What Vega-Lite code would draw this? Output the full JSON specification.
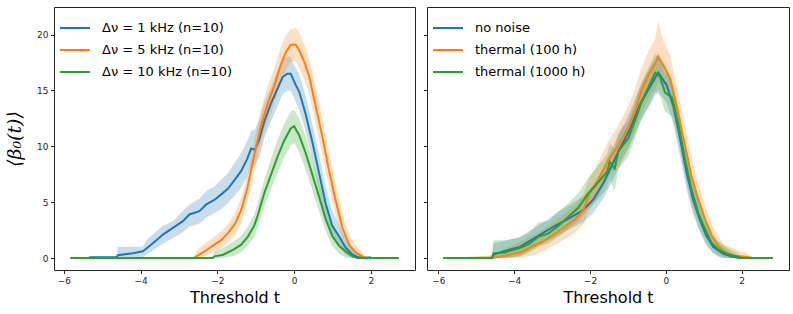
{
"$schema": "https://vega.github.io/schema/vega-lite/v6.json",
"background": "white",
"padding": {"left": 5, "top": 6, "right": 7, "bottom": 5},
"spacing": 6,
"config": {
  "font": "DejaVu Sans",
  "view": {"stroke": "#262626", "strokeWidth": 1},
  "axis": {"grid": false, "domain": false, "tickColor": "#262626", "tickSize": 3.5, "labelFontSize": 9, "labelColor": "#262626", "labelPadding": 2.5, "titleFontWeight": "normal", "titleColor": "#000000"},
  "legend": {"labelFontSize": 13, "labelColor": "#000000", "symbolStrokeWidth": 2}
},
"datasets": {
"left": [
{"s":"Δν = 1 kHz (n=10)","t":-5.83,"m":0,"lo":0,"hi":0},
{"s":"Δν = 1 kHz (n=10)","t":-5.33,"m":0,"lo":0,"hi":0},
{"s":"Δν = 1 kHz (n=10)","t":-5.32,"m":0.08,"lo":0,"hi":0.15},
{"s":"Δν = 1 kHz (n=10)","t":-4.62,"m":0.1,"lo":0,"hi":0.15},
{"s":"Δν = 1 kHz (n=10)","t":-4.6,"m":0.25,"lo":0,"hi":1.0},
{"s":"Δν = 1 kHz (n=10)","t":-4.2,"m":0.42,"lo":0,"hi":1.0},
{"s":"Δν = 1 kHz (n=10)","t":-3.95,"m":0.6,"lo":0.1,"hi":1.0},
{"s":"Δν = 1 kHz (n=10)","t":-3.85,"m":0.86,"lo":0.3,"hi":1.6},
{"s":"Δν = 1 kHz (n=10)","t":-3.59,"m":1.6,"lo":0.9,"hi":2.4},
{"s":"Δν = 1 kHz (n=10)","t":-3.42,"m":2.1,"lo":1.3,"hi":2.9},
{"s":"Δν = 1 kHz (n=10)","t":-3.16,"m":2.7,"lo":1.8,"hi":3.3},
{"s":"Δν = 1 kHz (n=10)","t":-2.9,"m":3.3,"lo":2.3,"hi":4.2},
{"s":"Δν = 1 kHz (n=10)","t":-2.73,"m":3.9,"lo":2.8,"hi":4.8},
{"s":"Δν = 1 kHz (n=10)","t":-2.47,"m":4.2,"lo":3.1,"hi":5.3},
{"s":"Δν = 1 kHz (n=10)","t":-2.29,"m":4.8,"lo":3.6,"hi":6.0},
{"s":"Δν = 1 kHz (n=10)","t":-2.08,"m":5.2,"lo":4.0,"hi":6.4},
{"s":"Δν = 1 kHz (n=10)","t":-1.9,"m":5.7,"lo":4.4,"hi":7.0},
{"s":"Δν = 1 kHz (n=10)","t":-1.73,"m":6.2,"lo":4.9,"hi":7.6},
{"s":"Δν = 1 kHz (n=10)","t":-1.55,"m":7.0,"lo":5.6,"hi":8.5},
{"s":"Δν = 1 kHz (n=10)","t":-1.38,"m":7.8,"lo":6.3,"hi":9.4},
{"s":"Δν = 1 kHz (n=10)","t":-1.22,"m":8.9,"lo":7.3,"hi":10.5},
{"s":"Δν = 1 kHz (n=10)","t":-1.12,"m":9.8,"lo":8.2,"hi":11.4},
{"s":"Δν = 1 kHz (n=10)","t":-1.02,"m":9.7,"lo":8.3,"hi":11.5},
{"s":"Δν = 1 kHz (n=10)","t":-0.91,"m":10.6,"lo":9.0,"hi":12.4},
{"s":"Δν = 1 kHz (n=10)","t":-0.78,"m":12.2,"lo":10.7,"hi":13.8},
{"s":"Δν = 1 kHz (n=10)","t":-0.61,"m":13.8,"lo":12.2,"hi":15.3},
{"s":"Δν = 1 kHz (n=10)","t":-0.43,"m":15.2,"lo":13.6,"hi":16.8},
{"s":"Δν = 1 kHz (n=10)","t":-0.3,"m":16.2,"lo":14.7,"hi":17.7},
{"s":"Δν = 1 kHz (n=10)","t":-0.18,"m":16.5,"lo":15.0,"hi":18.1},
{"s":"Δν = 1 kHz (n=10)","t":-0.09,"m":16.5,"lo":15.0,"hi":18.0},
{"s":"Δν = 1 kHz (n=10)","t":0.04,"m":15.5,"lo":14.0,"hi":17.0},
{"s":"Δν = 1 kHz (n=10)","t":0.13,"m":14.9,"lo":13.3,"hi":16.5},
{"s":"Δν = 1 kHz (n=10)","t":0.3,"m":12.9,"lo":11.3,"hi":14.5},
{"s":"Δν = 1 kHz (n=10)","t":0.48,"m":10.3,"lo":8.7,"hi":11.9},
{"s":"Δν = 1 kHz (n=10)","t":0.65,"m":7.6,"lo":6.0,"hi":9.2},
{"s":"Δν = 1 kHz (n=10)","t":0.82,"m":4.9,"lo":3.5,"hi":6.4},
{"s":"Δν = 1 kHz (n=10)","t":0.99,"m":2.9,"lo":1.8,"hi":4.2},
{"s":"Δν = 1 kHz (n=10)","t":1.17,"m":1.96,"lo":1.0,"hi":3.0},
{"s":"Δν = 1 kHz (n=10)","t":1.34,"m":0.92,"lo":0.3,"hi":1.8},
{"s":"Δν = 1 kHz (n=10)","t":1.51,"m":0.33,"lo":0,"hi":1.0},
{"s":"Δν = 1 kHz (n=10)","t":1.65,"m":0.1,"lo":0,"hi":0.4},
{"s":"Δν = 1 kHz (n=10)","t":1.86,"m":0.05,"lo":0,"hi":0.1},
{"s":"Δν = 1 kHz (n=10)","t":1.99,"m":0.05,"lo":0,"hi":0.1},
{"s":"Δν = 1 kHz (n=10)","t":2.0,"m":0,"lo":0,"hi":0},
{"s":"Δν = 1 kHz (n=10)","t":2.72,"m":0,"lo":0,"hi":0},
{"s":"Δν = 5 kHz (n=10)","t":-5.83,"m":0,"lo":0,"hi":0},
{"s":"Δν = 5 kHz (n=10)","t":-2.62,"m":0,"lo":0,"hi":0},
{"s":"Δν = 5 kHz (n=10)","t":-2.55,"m":0.15,"lo":0,"hi":0.6},
{"s":"Δν = 5 kHz (n=10)","t":-2.47,"m":0.3,"lo":0,"hi":0.9},
{"s":"Δν = 5 kHz (n=10)","t":-2.29,"m":0.7,"lo":0.2,"hi":1.4},
{"s":"Δν = 5 kHz (n=10)","t":-2.08,"m":1.2,"lo":0.6,"hi":1.9},
{"s":"Δν = 5 kHz (n=10)","t":-1.9,"m":1.6,"lo":0.9,"hi":2.4},
{"s":"Δν = 5 kHz (n=10)","t":-1.73,"m":2.2,"lo":1.4,"hi":3.0},
{"s":"Δν = 5 kHz (n=10)","t":-1.55,"m":3.0,"lo":2.0,"hi":4.0},
{"s":"Δν = 5 kHz (n=10)","t":-1.38,"m":4.3,"lo":3.2,"hi":5.4},
{"s":"Δν = 5 kHz (n=10)","t":-1.21,"m":6.4,"lo":5.2,"hi":7.6},
{"s":"Δν = 5 kHz (n=10)","t":-1.04,"m":9.2,"lo":7.8,"hi":10.6},
{"s":"Δν = 5 kHz (n=10)","t":-0.87,"m":11.8,"lo":10.3,"hi":13.3},
{"s":"Δν = 5 kHz (n=10)","t":-0.69,"m":13.8,"lo":12.2,"hi":15.4},
{"s":"Δν = 5 kHz (n=10)","t":-0.52,"m":15.4,"lo":13.8,"hi":17.0},
{"s":"Δν = 5 kHz (n=10)","t":-0.35,"m":17.3,"lo":15.6,"hi":18.9},
{"s":"Δν = 5 kHz (n=10)","t":-0.22,"m":18.4,"lo":16.8,"hi":19.9},
{"s":"Δν = 5 kHz (n=10)","t":-0.09,"m":19.1,"lo":17.6,"hi":20.5},
{"s":"Δν = 5 kHz (n=10)","t":0.04,"m":19.1,"lo":17.6,"hi":20.6},
{"s":"Δν = 5 kHz (n=10)","t":0.13,"m":18.6,"lo":17.0,"hi":20.2},
{"s":"Δν = 5 kHz (n=10)","t":0.26,"m":17.6,"lo":16.0,"hi":19.2},
{"s":"Δν = 5 kHz (n=10)","t":0.39,"m":16.3,"lo":14.7,"hi":17.9},
{"s":"Δν = 5 kHz (n=10)","t":0.56,"m":13.6,"lo":12.0,"hi":15.2},
{"s":"Δν = 5 kHz (n=10)","t":0.74,"m":10.8,"lo":9.2,"hi":12.4},
{"s":"Δν = 5 kHz (n=10)","t":0.91,"m":7.8,"lo":6.3,"hi":9.3},
{"s":"Δν = 5 kHz (n=10)","t":1.08,"m":5.2,"lo":3.8,"hi":6.6},
{"s":"Δν = 5 kHz (n=10)","t":1.25,"m":2.8,"lo":1.7,"hi":4.0},
{"s":"Δν = 5 kHz (n=10)","t":1.43,"m":1.2,"lo":0.5,"hi":2.0},
{"s":"Δν = 5 kHz (n=10)","t":1.6,"m":0.5,"lo":0,"hi":1.2},
{"s":"Δν = 5 kHz (n=10)","t":1.77,"m":0.18,"lo":0,"hi":0.6},
{"s":"Δν = 5 kHz (n=10)","t":1.86,"m":0,"lo":0,"hi":0},
{"s":"Δν = 5 kHz (n=10)","t":2.72,"m":0,"lo":0,"hi":0},
{"s":"Δν = 10 kHz (n=10)","t":-5.83,"m":0,"lo":0,"hi":0},
{"s":"Δν = 10 kHz (n=10)","t":-2.12,"m":0,"lo":0,"hi":0},
{"s":"Δν = 10 kHz (n=10)","t":-2.08,"m":0.15,"lo":0,"hi":0.6},
{"s":"Δν = 10 kHz (n=10)","t":-1.85,"m":0.3,"lo":0,"hi":0.9},
{"s":"Δν = 10 kHz (n=10)","t":-1.56,"m":0.8,"lo":0.2,"hi":1.5},
{"s":"Δν = 10 kHz (n=10)","t":-1.38,"m":1.2,"lo":0.5,"hi":2.0},
{"s":"Δν = 10 kHz (n=10)","t":-1.21,"m":1.9,"lo":1.1,"hi":2.8},
{"s":"Δν = 10 kHz (n=10)","t":-1.04,"m":2.9,"lo":1.9,"hi":3.9},
{"s":"Δν = 10 kHz (n=10)","t":-0.95,"m":3.8,"lo":2.7,"hi":4.9},
{"s":"Δν = 10 kHz (n=10)","t":-0.78,"m":5.8,"lo":4.6,"hi":7.0},
{"s":"Δν = 10 kHz (n=10)","t":-0.61,"m":7.4,"lo":6.1,"hi":8.8},
{"s":"Δν = 10 kHz (n=10)","t":-0.43,"m":9.1,"lo":7.7,"hi":10.6},
{"s":"Δν = 10 kHz (n=10)","t":-0.26,"m":10.5,"lo":9.0,"hi":12.0},
{"s":"Δν = 10 kHz (n=10)","t":-0.09,"m":11.6,"lo":10.1,"hi":13.1},
{"s":"Δν = 10 kHz (n=10)","t":0.0,"m":11.8,"lo":10.3,"hi":13.3},
{"s":"Δν = 10 kHz (n=10)","t":0.13,"m":11.0,"lo":9.5,"hi":12.5},
{"s":"Δν = 10 kHz (n=10)","t":0.3,"m":9.4,"lo":7.9,"hi":10.9},
{"s":"Δν = 10 kHz (n=10)","t":0.48,"m":7.4,"lo":6.0,"hi":8.8},
{"s":"Δν = 10 kHz (n=10)","t":0.65,"m":5.5,"lo":4.2,"hi":6.8},
{"s":"Δν = 10 kHz (n=10)","t":0.82,"m":3.5,"lo":2.4,"hi":4.7},
{"s":"Δν = 10 kHz (n=10)","t":0.99,"m":2.0,"lo":1.1,"hi":3.0},
{"s":"Δν = 10 kHz (n=10)","t":1.17,"m":1.1,"lo":0.4,"hi":1.8},
{"s":"Δν = 10 kHz (n=10)","t":1.34,"m":0.6,"lo":0,"hi":1.2},
{"s":"Δν = 10 kHz (n=10)","t":1.51,"m":0.2,"lo":0,"hi":0.6},
{"s":"Δν = 10 kHz (n=10)","t":1.64,"m":0,"lo":0,"hi":0},
{"s":"Δν = 10 kHz (n=10)","t":2.72,"m":0,"lo":0,"hi":0}
],
"right": [
{"s":"no noise","t":-5.87,"m":0,"lo":0,"hi":0},
{"s":"no noise","t":-4.6,"m":0,"lo":0,"hi":0},
{"s":"no noise","t":-4.55,"m":0.3,"lo":0,"hi":1.3},
{"s":"no noise","t":-4.29,"m":0.6,"lo":0,"hi":1.5},
{"s":"no noise","t":-3.85,"m":1.0,"lo":0.2,"hi":1.9},
{"s":"no noise","t":-3.41,"m":1.9,"lo":1.0,"hi":2.8},
{"s":"no noise","t":-2.97,"m":2.8,"lo":1.8,"hi":3.8},
{"s":"no noise","t":-2.53,"m":3.6,"lo":2.6,"hi":4.8},
{"s":"no noise","t":-2.18,"m":4.3,"lo":3.2,"hi":5.5},
{"s":"no noise","t":-1.92,"m":5.2,"lo":4.0,"hi":6.5},
{"s":"no noise","t":-1.65,"m":6.7,"lo":5.3,"hi":8.1},
{"s":"no noise","t":-1.48,"m":7.9,"lo":6.4,"hi":9.4},
{"s":"no noise","t":-1.21,"m":9.8,"lo":8.3,"hi":11.3},
{"s":"no noise","t":-0.95,"m":11.5,"lo":10.0,"hi":13.1},
{"s":"no noise","t":-0.69,"m":13.7,"lo":12.1,"hi":15.3},
{"s":"no noise","t":-0.42,"m":15.3,"lo":13.7,"hi":17.0},
{"s":"no noise","t":-0.2,"m":16.6,"lo":15.0,"hi":18.3},
{"s":"no noise","t":0.02,"m":15.5,"lo":13.9,"hi":17.1},
{"s":"no noise","t":0.2,"m":13.6,"lo":12.0,"hi":15.2},
{"s":"no noise","t":0.37,"m":10.8,"lo":9.2,"hi":12.4},
{"s":"no noise","t":0.55,"m":7.6,"lo":6.1,"hi":9.1},
{"s":"no noise","t":0.72,"m":5.2,"lo":3.9,"hi":6.5},
{"s":"no noise","t":0.9,"m":3.4,"lo":2.3,"hi":4.6},
{"s":"no noise","t":1.07,"m":2.0,"lo":1.1,"hi":3.0},
{"s":"no noise","t":1.25,"m":1.0,"lo":0.4,"hi":1.8},
{"s":"no noise","t":1.51,"m":0.4,"lo":0,"hi":1.0},
{"s":"no noise","t":1.78,"m":0.1,"lo":0,"hi":0.4},
{"s":"no noise","t":1.95,"m":0,"lo":0,"hi":0},
{"s":"no noise","t":2.82,"m":0,"lo":0,"hi":0},
{"s":"thermal (100 h)","t":-5.87,"m":0,"lo":0,"hi":0},
{"s":"thermal (100 h)","t":-5.3,"m":0,"lo":0,"hi":0},
{"s":"thermal (100 h)","t":-4.5,"m":0.05,"lo":0,"hi":0.3},
{"s":"thermal (100 h)","t":-4.15,"m":0.27,"lo":0,"hi":1.0},
{"s":"thermal (100 h)","t":-3.8,"m":0.56,"lo":0,"hi":1.5},
{"s":"thermal (100 h)","t":-3.45,"m":1.16,"lo":0.3,"hi":2.2},
{"s":"thermal (100 h)","t":-3.18,"m":1.6,"lo":0.7,"hi":2.7},
{"s":"thermal (100 h)","t":-2.92,"m":2.2,"lo":1.2,"hi":3.3},
{"s":"thermal (100 h)","t":-2.66,"m":2.8,"lo":1.7,"hi":4.0},
{"s":"thermal (100 h)","t":-2.39,"m":3.5,"lo":2.3,"hi":4.8},
{"s":"thermal (100 h)","t":-2.17,"m":4.3,"lo":3.0,"hi":5.7},
{"s":"thermal (100 h)","t":-2.04,"m":5.6,"lo":4.2,"hi":7.0},
{"s":"thermal (100 h)","t":-1.78,"m":7.0,"lo":5.5,"hi":8.6},
{"s":"thermal (100 h)","t":-1.51,"m":8.8,"lo":7.2,"hi":10.5},
{"s":"thermal (100 h)","t":-1.25,"m":10.1,"lo":8.4,"hi":11.9},
{"s":"thermal (100 h)","t":-0.99,"m":11.7,"lo":9.9,"hi":13.6},
{"s":"thermal (100 h)","t":-0.81,"m":13.2,"lo":11.3,"hi":15.2},
{"s":"thermal (100 h)","t":-0.64,"m":15.0,"lo":13.0,"hi":17.0},
{"s":"thermal (100 h)","t":-0.46,"m":16.4,"lo":14.3,"hi":18.5},
{"s":"thermal (100 h)","t":-0.28,"m":17.4,"lo":15.2,"hi":19.6},
{"s":"thermal (100 h)","t":-0.2,"m":18.0,"lo":15.8,"hi":21.2},
{"s":"thermal (100 h)","t":-0.06,"m":17.2,"lo":15.1,"hi":19.4},
{"s":"thermal (100 h)","t":0.11,"m":16.1,"lo":14.1,"hi":18.2},
{"s":"thermal (100 h)","t":0.29,"m":13.5,"lo":11.6,"hi":15.4},
{"s":"thermal (100 h)","t":0.46,"m":10.8,"lo":9.0,"hi":12.6},
{"s":"thermal (100 h)","t":0.68,"m":7.3,"lo":5.8,"hi":8.9},
{"s":"thermal (100 h)","t":0.86,"m":5.2,"lo":3.9,"hi":6.6},
{"s":"thermal (100 h)","t":1.04,"m":3.45,"lo":2.3,"hi":4.7},
{"s":"thermal (100 h)","t":1.21,"m":2.0,"lo":1.1,"hi":3.0},
{"s":"thermal (100 h)","t":1.39,"m":1.07,"lo":0.4,"hi":1.9},
{"s":"thermal (100 h)","t":1.56,"m":0.5,"lo":0,"hi":1.2},
{"s":"thermal (100 h)","t":1.83,"m":0.2,"lo":0,"hi":0.8},
{"s":"thermal (100 h)","t":2.09,"m":0.12,"lo":0,"hi":0.5},
{"s":"thermal (100 h)","t":2.31,"m":0,"lo":0,"hi":0},
{"s":"thermal (100 h)","t":2.82,"m":0,"lo":0,"hi":0},
{"s":"thermal (1000 h)","t":-5.87,"m":0,"lo":0,"hi":0},
{"s":"thermal (1000 h)","t":-4.58,"m":0,"lo":0,"hi":0},
{"s":"thermal (1000 h)","t":-4.55,"m":0.42,"lo":0,"hi":1.6},
{"s":"thermal (1000 h)","t":-4.24,"m":0.5,"lo":0,"hi":1.6},
{"s":"thermal (1000 h)","t":-3.89,"m":0.86,"lo":0.1,"hi":1.8},
{"s":"thermal (1000 h)","t":-3.63,"m":1.2,"lo":0.4,"hi":2.2},
{"s":"thermal (1000 h)","t":-3.36,"m":1.9,"lo":1.0,"hi":3.2},
{"s":"thermal (1000 h)","t":-3.1,"m":2.2,"lo":1.3,"hi":3.3},
{"s":"thermal (1000 h)","t":-2.83,"m":2.9,"lo":1.9,"hi":4.2},
{"s":"thermal (1000 h)","t":-2.57,"m":3.7,"lo":2.6,"hi":4.9},
{"s":"thermal (1000 h)","t":-2.31,"m":4.5,"lo":3.3,"hi":5.8},
{"s":"thermal (1000 h)","t":-2.04,"m":5.8,"lo":4.4,"hi":7.2},
{"s":"thermal (1000 h)","t":-1.78,"m":6.8,"lo":5.3,"hi":8.3},
{"s":"thermal (1000 h)","t":-1.55,"m":7.7,"lo":6.2,"hi":9.3},
{"s":"thermal (1000 h)","t":-1.48,"m":8.6,"lo":7.0,"hi":10.2},
{"s":"thermal (1000 h)","t":-1.35,"m":8.0,"lo":6.0,"hi":9.8},
{"s":"thermal (1000 h)","t":-1.25,"m":9.6,"lo":8.0,"hi":11.2},
{"s":"thermal (1000 h)","t":-0.99,"m":10.7,"lo":9.1,"hi":12.3},
{"s":"thermal (1000 h)","t":-0.81,"m":12.3,"lo":10.7,"hi":14.0},
{"s":"thermal (1000 h)","t":-0.64,"m":14.0,"lo":12.4,"hi":15.7},
{"s":"thermal (1000 h)","t":-0.46,"m":15.3,"lo":13.6,"hi":17.0},
{"s":"thermal (1000 h)","t":-0.28,"m":16.6,"lo":14.9,"hi":18.3},
{"s":"thermal (1000 h)","t":-0.15,"m":16.2,"lo":14.5,"hi":17.9},
{"s":"thermal (1000 h)","t":-0.02,"m":14.8,"lo":13.1,"hi":16.5},
{"s":"thermal (1000 h)","t":0.16,"m":14.4,"lo":12.7,"hi":16.1},
{"s":"thermal (1000 h)","t":0.33,"m":12.0,"lo":10.4,"hi":13.6},
{"s":"thermal (1000 h)","t":0.51,"m":8.8,"lo":7.3,"hi":10.3},
{"s":"thermal (1000 h)","t":0.68,"m":6.1,"lo":4.7,"hi":7.5},
{"s":"thermal (1000 h)","t":0.86,"m":4.0,"lo":2.8,"hi":5.3},
{"s":"thermal (1000 h)","t":1.04,"m":2.55,"lo":1.5,"hi":3.7},
{"s":"thermal (1000 h)","t":1.21,"m":1.36,"lo":0.6,"hi":2.3},
{"s":"thermal (1000 h)","t":1.39,"m":0.77,"lo":0.1,"hi":1.5},
{"s":"thermal (1000 h)","t":1.65,"m":0.33,"lo":0,"hi":0.9},
{"s":"thermal (1000 h)","t":1.92,"m":0.1,"lo":0,"hi":0.4},
{"s":"thermal (1000 h)","t":2.0,"m":0,"lo":0,"hi":0},
{"s":"thermal (1000 h)","t":2.82,"m":0,"lo":0,"hi":0}
]
},
"hconcat": [
{
  "width": 361, "height": 263,
  "data": {"name": "left"},
  "layer": [
    {"mark": {"type": "area", "fillOpacity": 0.25},
     "encoding": {
       "x": {"field": "t", "type": "quantitative", "scale": {"domain": [-6.26, 3.15], "nice": false, "zero": false}, "axis": {"values": [-6, -4, -2, 0, 2], "title": "Threshold t", "titleFontSize": 16, "titlePadding": 4}},
       "y": {"field": "lo", "type": "quantitative", "scale": {"domain": [-1.07, 22.47], "nice": false, "zero": false}, "axis": {"values": [0, 5, 10, 15, 20], "title": "⟨β₀(t)⟩", "titleFont": "DejaVu Serif", "titleFontStyle": "italic", "titleFontSize": 19, "titlePadding": 12}},
       "y2": {"field": "hi"},
       "color": {"field": "s", "type": "nominal", "scale": {"domain": ["Δν = 1 kHz (n=10)", "Δν = 5 kHz (n=10)", "Δν = 10 kHz (n=10)"], "range": ["#1f77b4", "#ff7f0e", "#2ca02c"]}, "legend": {"title": null, "orient": "top-left", "offset": 14, "symbolType": "M-2.5,0L2.5,0", "symbolSize": 144, "symbolStrokeWidth": 2, "symbolOpacity": 1, "labelFontSize": 13, "labelOffset": 20, "rowPadding": 8, "labelLimit": 300}}
     }},
    {"mark": {"type": "line", "strokeWidth": 2},
     "encoding": {
       "x": {"field": "t", "type": "quantitative"},
       "y": {"field": "m", "type": "quantitative"},
       "color": {"field": "s", "type": "nominal", "scale": {"domain": ["Δν = 1 kHz (n=10)", "Δν = 5 kHz (n=10)", "Δν = 10 kHz (n=10)"], "range": ["#1f77b4", "#ff7f0e", "#2ca02c"]}, "legend": {"title": null, "orient": "top-left", "offset": 14, "symbolType": "M-2.5,0L2.5,0", "symbolSize": 144, "symbolStrokeWidth": 2, "symbolOpacity": 1, "labelFontSize": 13, "labelOffset": 20, "rowPadding": 8, "labelLimit": 300}}
     }}
  ]
},
{
  "width": 362, "height": 263,
  "data": {"name": "right"},
  "layer": [
    {"mark": {"type": "area", "fillOpacity": 0.25},
     "encoding": {
       "x": {"field": "t", "type": "quantitative", "scale": {"domain": [-6.3, 3.25], "nice": false, "zero": false}, "axis": {"values": [-6, -4, -2, 0, 2], "title": "Threshold t", "titleFontSize": 16, "titlePadding": 4}},
       "y": {"field": "lo", "type": "quantitative", "scale": {"domain": [-1.07, 22.47], "nice": false, "zero": false}, "axis": {"values": [0, 5, 10, 15, 20], "labels": false, "title": null}},
       "y2": {"field": "hi"},
       "color": {"field": "s", "type": "nominal", "scale": {"domain": ["no noise", "thermal (100 h)", "thermal (1000 h)"], "range": ["#1f77b4", "#ff7f0e", "#2ca02c"]}, "legend": {"title": null, "orient": "top-left", "offset": 14, "symbolType": "M-2.5,0L2.5,0", "symbolSize": 144, "symbolStrokeWidth": 2, "symbolOpacity": 1, "labelFontSize": 13, "labelOffset": 20, "rowPadding": 8, "labelLimit": 300}}
     }},
    {"mark": {"type": "line", "strokeWidth": 2},
     "encoding": {
       "x": {"field": "t", "type": "quantitative"},
       "y": {"field": "m", "type": "quantitative"},
       "color": {"field": "s", "type": "nominal", "scale": {"domain": ["no noise", "thermal (100 h)", "thermal (1000 h)"], "range": ["#1f77b4", "#ff7f0e", "#2ca02c"]}, "legend": {"title": null, "orient": "top-left", "offset": 14, "symbolType": "M-2.5,0L2.5,0", "symbolSize": 144, "symbolStrokeWidth": 2, "symbolOpacity": 1, "labelFontSize": 13, "labelOffset": 20, "rowPadding": 8, "labelLimit": 300}}
     }}
  ]
}
],
"resolve": {"scale": {"color": "independent"}, "legend": {"color": "independent"}}
}
